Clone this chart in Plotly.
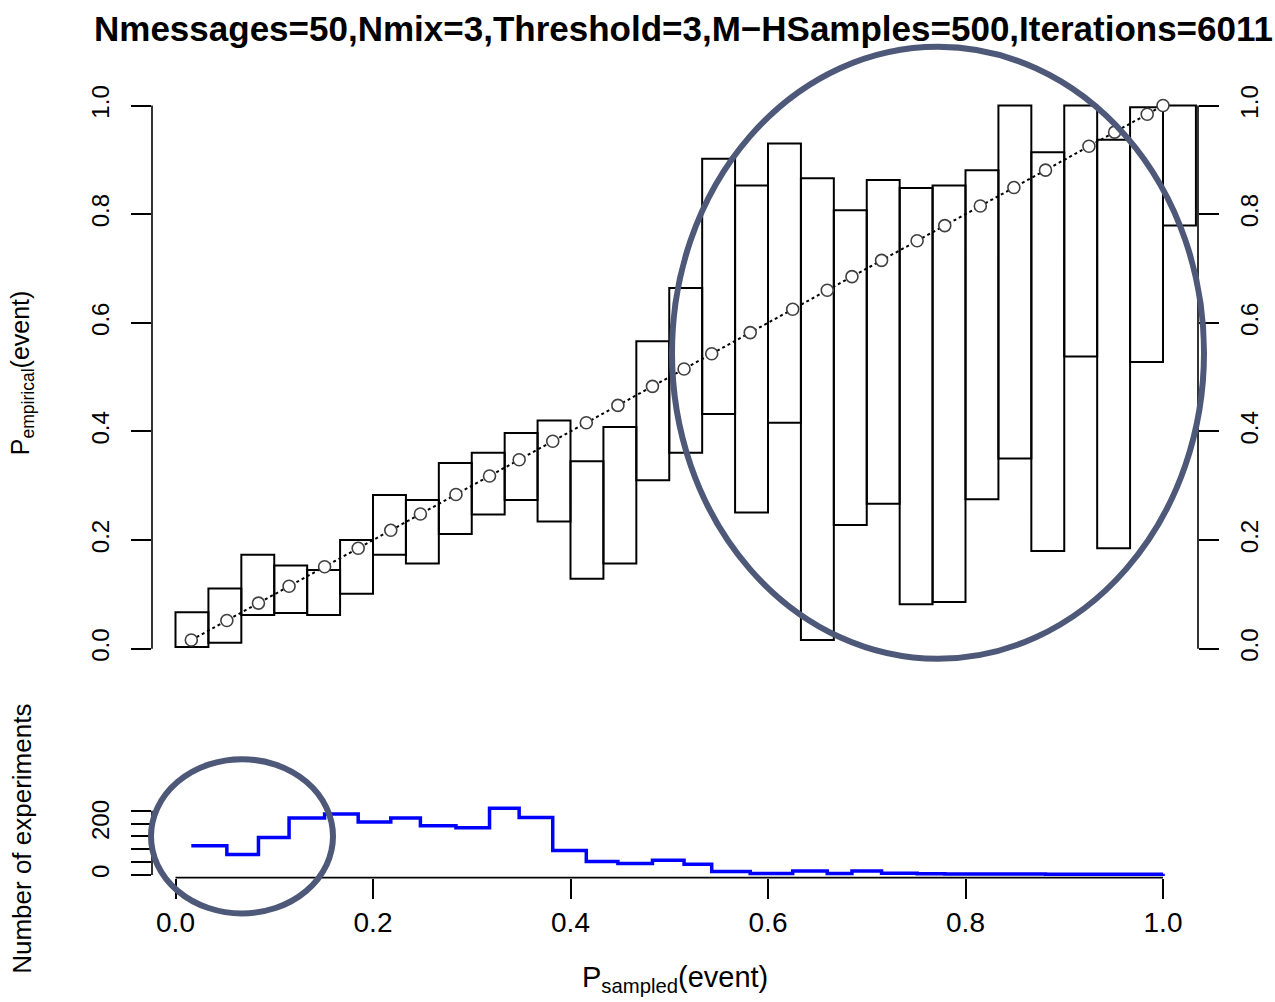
import plotly.graph_objects as go

# ---------------- data ----------------
n_bins = 31
bin_width = 1 / 30
bin_left = [i / 30 for i in range(n_bins)]

# mean sampled probability per bin (circle position on the diagonal)
mean_p = [0.016, 0.052, 0.084, 0.115, 0.151, 0.185, 0.218, 0.248, 0.284, 0.318,
          0.348, 0.382, 0.416, 0.448, 0.483, 0.515, 0.543, 0.582, 0.625, 0.660,
          0.685, 0.715, 0.751, 0.779, 0.815, 0.849, 0.881, 0.925, 0.951, 0.984, 1.0]

# empirical probability interval per bin (box bottom / top)
box_lo = [0.003, 0.011, 0.062, 0.066, 0.062, 0.101, 0.173, 0.157, 0.211, 0.247,
          0.274, 0.234, 0.129, 0.157, 0.310, 0.361, 0.432, 0.251, 0.416, 0.016,
          0.228, 0.267, 0.082, 0.086, 0.275, 0.350, 0.180, 0.538, 0.185, 0.528, 0.779]
box_hi = [0.067, 0.111, 0.173, 0.153, 0.145, 0.200, 0.283, 0.274, 0.342, 0.361,
          0.397, 0.420, 0.345, 0.408, 0.566, 0.664, 0.902, 0.853, 0.930, 0.866,
          0.807, 0.863, 0.848, 0.853, 0.881, 1.000, 0.914, 1.000, 0.937, 0.997, 1.000]

# number of experiments per bin
counts = [114, 80, 146, 222, 237, 206, 222, 192, 184, 260,
          224, 95, 52, 45, 57, 42, 13, 6, 15, 6,
          15, 7, 5, 4, 4, 4, 3, 3, 3, 3, 5]

prob_ticks = [0.0, 0.2, 0.4, 0.6, 0.8, 1.0]
prob_ticktext = ["0.0", "0.2", "0.4", "0.6", "0.8", "1.0"]
count_label_ticks = [0, 200]
count_label_text = ["0", "200"]
count_minor_step = 50

title_text = "Nmessages=50,Nmix=3,Threshold=3,M\u2212HSamples=500,Iterations=6011"

# ---------------- layout geometry (pixels) ----------------
W, H = 1275, 1002
FONT = "Liberation Sans, Arial, sans-serif"
px_x0, px_x1 = 152, 1198          # plot region horizontally
x_zero_px, x_unit_px = 175.5, 987.5
x_range = [(px_x0 - x_zero_px) / x_unit_px, (px_x1 - x_zero_px) / x_unit_px]

top_y0_px, top_y1_px = 79.2, 668.8   # top panel (y from top)
bot_y0_px, bot_y1_px = 804.5, 877.0  # bottom panel

def fy(p):
    return 1 - p / H

def fx(p):
    return p / W

fig = go.Figure()

heights = [h - l for h, l in zip(box_hi, box_lo)]
fig.add_trace(go.Bar(
    x=bin_left, y=heights, base=box_lo, width=bin_width, offset=0,
    marker=dict(color="rgba(0,0,0,0)", line=dict(color="black", width=2)),
    xaxis="x", yaxis="y", hoverinfo="skip"))

fig.add_trace(go.Scatter(
    x=mean_p, y=mean_p, mode="lines+markers",
    line=dict(color="black", width=2, dash="dot"),
    marker=dict(symbol="circle", size=12, color="white",
                line=dict(color="#404040", width=1.6)),
    xaxis="x", yaxis="y"))

# invisible helper so the right-hand axis is drawn
fig.add_trace(go.Scatter(x=[mean_p[0]], y=[mean_p[0]], mode="markers",
                         marker=dict(opacity=0), xaxis="x", yaxis="y2",
                         hoverinfo="skip"))

fig.add_trace(go.Scatter(
    x=mean_p, y=counts, mode="lines", line_shape="hv",
    line=dict(color="#0000ff", width=3.5),
    xaxis="x2", yaxis="y3"))

tick_common = dict(ticks="outside", ticklen=20, tickwidth=1.6, tickcolor="black",
                   showgrid=False, zeroline=False, showline=False)

fig.update_layout(
    width=W, height=H, margin=dict(l=0, r=0, t=0, b=0),
    paper_bgcolor="white", plot_bgcolor="white", showlegend=False,
    font=dict(family=FONT, color="black"),
    xaxis=dict(domain=[fx(px_x0), fx(px_x1)], range=x_range, visible=False,
               anchor="y"),
    yaxis=dict(domain=[fy(top_y1_px), fy(top_y0_px)], range=[-0.04, 1.04],
               anchor="x", tickvals=prob_ticks, ticktext=prob_ticktext,
               tickangle=-90, tickfont=dict(size=24, family=FONT),
               ticklabelstandoff=12, **tick_common),
    yaxis2=dict(overlaying="y", side="right", range=[-0.04, 1.04], anchor="x",
                tickvals=prob_ticks, ticktext=prob_ticktext, tickangle=-90,
                tickfont=dict(size=24, family=FONT), ticklabelstandoff=10,
                **tick_common),
    xaxis2=dict(domain=[fx(px_x0), fx(px_x1)], range=x_range, anchor="y3",
                tickvals=prob_ticks, ticktext=prob_ticktext,
                tickfont=dict(size=28, family=FONT), ticklabelstandoff=0,
                **tick_common),
    yaxis3=dict(domain=[fy(bot_y1_px), fy(bot_y0_px)], range=[-10.4, 270.4],
                anchor="x2", tickvals=count_label_ticks, ticktext=count_label_text,
                tickangle=-90, tickfont=dict(size=24, family=FONT),
                ticklabelstandoff=12,
                minor=dict(tick0=0, dtick=count_minor_step, ticks="outside",
                           ticklen=20, tickwidth=1.6, tickcolor="black",
                           showgrid=False),
                **tick_common),
)

ax_line = dict(color="black", width=1.6)
shapes = [
    # top-left and top-right axis lines (from 0 to 1 like R)
    dict(type="line", xref="paper", yref="y", x0=fx(px_x0), x1=fx(px_x0), y0=0, y1=1, line=ax_line),
    dict(type="line", xref="paper", yref="y", x0=fx(px_x1), x1=fx(px_x1), y0=0, y1=1, line=ax_line),
    # bottom panel axes
    dict(type="line", xref="x2", yref="paper", x0=0, x1=1, y0=fy(bot_y1_px), y1=fy(bot_y1_px), line=ax_line),
    dict(type="line", xref="paper", yref="y3", x0=fx(px_x0), x1=fx(px_x0), y0=0, y1=250, line=ax_line),
    # annotation ellipses
    dict(type="circle", xref="paper", yref="paper", x0=fx(672), x1=fx(1204),
         y0=fy(657), y1=fy(42), line=dict(color="#4e5878", width=6)),
    dict(type="circle", xref="paper", yref="paper", x0=fx(151), x1=fx(333),
         y0=fy(913), y1=fy(758), line=dict(color="#4e5878", width=6)),
]
fig.update_layout(shapes=shapes)

annotations = [
    dict(text="<b>" + title_text + "</b>", x=fx(683), y=fy(24), xref="paper", yref="paper",
         showarrow=False, xanchor="center", yanchor="middle",
         font=dict(size=35, family=FONT)),
    dict(text="P<sub>empirical</sub>(event)", x=fx(22), y=fy(370), xref="paper", yref="paper",
         showarrow=False, textangle=-90, xanchor="center", yanchor="middle",
         font=dict(size=25, family=FONT)),
    dict(text="Number of experiments", x=fx(22), y=fy(838), xref="paper", yref="paper",
         showarrow=False, textangle=-90, xanchor="center", yanchor="middle",
         font=dict(size=26, family=FONT)),
    dict(text="P<sub>sampled</sub>(event)", x=fx(675), y=fy(979), xref="paper", yref="paper",
         showarrow=False, xanchor="center", yanchor="middle",
         font=dict(size=29, family=FONT)),
]
fig.update_layout(annotations=annotations)

fig.write_html("out.html")
